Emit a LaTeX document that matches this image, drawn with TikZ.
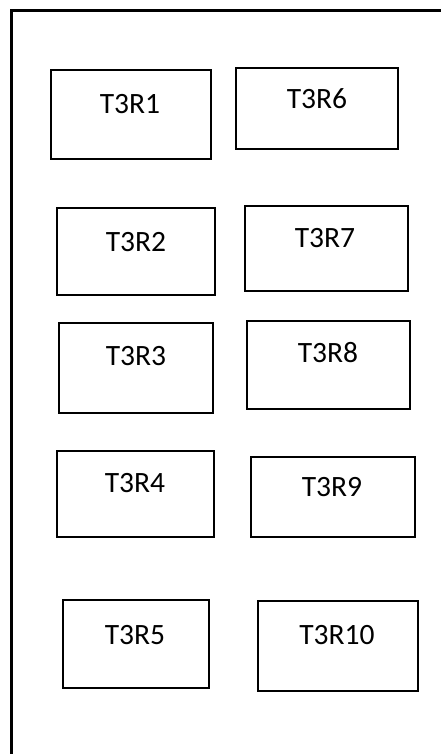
\documentclass[tikz,border=0pt]{standalone}
\usepackage{fontspec}
\setmainfont{Carlito}
\begin{document}
\begin{tikzpicture}[x=1pt,y=-1pt,
  box/.style={draw=black, line width=2pt, fill=white, inner sep=0pt},
  lbl/.style={inner sep=0pt, font=\fontsize{29.5}{31}\selectfont}]
\useasboundingbox (0,0) rectangle (441,754);
\begin{scope}
\clip (0,0) rectangle (441,754);
\draw[line width=3pt] (11,770) -- (11,10.5) -- (460,10.5);
\end{scope}
% left column
\node[box, minimum width=160pt, minimum height=89pt] (b1) at (131,114.5) {};
\node[lbl] (t1) at (130,104) {T3R1};
\node[box, minimum width=158pt, minimum height=87pt] (b2) at (136,251.5) {};
\node[lbl] (t2) at (136,242) {T3R2};
\node[box, minimum width=154pt, minimum height=90pt] (b3) at (136,368) {};
\node[lbl] (t3) at (136,356) {T3R3};
\node[box, minimum width=157pt, minimum height=86pt] (b4) at (135.5,494) {};
\node[lbl] (t4) at (135,483) {T3R4};
\node[box, minimum width=146pt, minimum height=88pt] (b5) at (136,644) {};
\node[lbl] (t5) at (135,635) {T3R5};
% right column
\node[box, minimum width=162pt, minimum height=81pt] (b6) at (317,108.5) {};
\node[lbl] (t6) at (317,99) {T3R6};
\node[box, minimum width=163pt, minimum height=85pt] (b7) at (326.5,248.5) {};
\node[lbl] (t7) at (325,238) {T3R7};
\node[box, minimum width=163pt, minimum height=88pt] (b8) at (328.5,365) {};
\node[lbl] (t8) at (328,353) {T3R8};
\node[box, minimum width=164pt, minimum height=80pt] (b9) at (333,497) {};
\node[lbl] (t9) at (332,487) {T3R9};
\node[box, minimum width=160pt, minimum height=90pt] (b10) at (338,646) {};
\node[lbl] (t10) at (337,635) {T3R10};
\end{tikzpicture}
\end{document}
